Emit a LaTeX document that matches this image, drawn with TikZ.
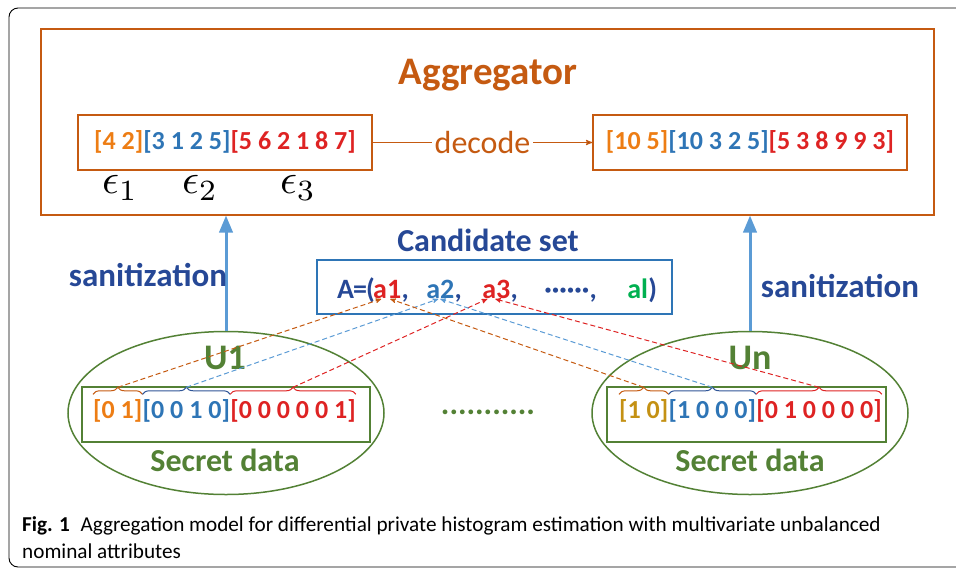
\documentclass[tikz,border=0pt]{standalone}
\usepackage{graphicx}
\usepackage{fontspec}
\setmainfont{Carlito}
\usepackage{tikz}
\usetikzlibrary{arrows}
\usetikzlibrary{shapes.geometric,decorations.pathreplacing}
\usetikzlibrary{positioning,calc}
\definecolor{aggorange}{RGB}{197,90,17}
\definecolor{txtorange}{RGB}{237,125,20}
\definecolor{txtblue}{RGB}{46,117,182}
\definecolor{braceblue}{RGB}{47,85,151}
\definecolor{txtred}{RGB}{222,35,35}
\definecolor{darkblue}{RGB}{38,72,150}
\definecolor{lightblue}{RGB}{91,155,213}
\definecolor{usergreen}{RGB}{83,129,53}
\definecolor{brightgreen}{RGB}{0,176,80}
\definecolor{gold}{RGB}{196,145,20}
\newcommand{\sz}[1]{\fontsize{#1}{#1}\selectfont}
\newcommand{\eps}[1]{\scalebox{4.2}{$\epsilon_{#1}$}}
\tikzset{
	every node/.style={font=\bfseries}
}
\tikzset{
	box/.style={draw,line width=1.6pt,inner sep=0pt}
}
\tikzset{
	vec/.style={font=\bfseries\sz{26},inner sep=0pt,text height=19pt,text depth=6pt},
	cand/.style={font=\bfseries\sz{28},inner sep=0pt,text height=20pt,text depth=7pt},
	user/.style={ellipse,draw=usergreen,line width=1.5pt,minimum width=316pt,minimum height=163pt},
	grp/.style={decorate,decoration={brace,amplitude=7pt,raise=5pt},line width=1pt},
	pick/.style={->,>=stealth',dash pattern=on 5pt off 3pt,line width=1pt},
	sanit/.style={->,>=triangle 45,line width=3pt,draw=lightblue}
}

\begin{document}
\begin{tikzpicture}[x=1pt,y=-1pt]
      \useasboundingbox (0,0) rectangle (956,571);
      \draw[rounded corners=9pt,line width=0.9pt] (975,567) -- (9,567) -- (9,8) -- (975,8);
      \node[box,draw=aggorange,minimum width=893pt,minimum height=186pt] (agg) at (487.5,122) {};
      \node[font=\bfseries\sz{39},text=aggorange] (aggtitle) at (488,75) {Aggregator};
      \node[box,vec,draw=aggorange,minimum width=294pt,minimum height=55pt] (enc) at (225,142.5)
           {\textcolor{txtorange}{[4 2]}\textcolor{txtblue}{[3 1 2 5]}\textcolor{txtred}{[5 6 2 1 8 7]}};
      \node[box,vec,draw=aggorange,minimum width=314pt,minimum height=55pt] (dec) at (750,142.5)
           {\textcolor{txtorange}{[10 5]}\textcolor{txtblue}{[10 3 2 5]}\textcolor{txtred}{[5 3 8 9 9 3]}};
      \path[->,>=stealth',draw=aggorange,line width=1.2pt] (enc) edge node[fill=white,font=\sz{32},text=aggorange,inner sep=3pt] {decode} (dec);
      \node (e1) at (120,188) {\eps{1}};
      \node (e2) at (200,188) {\eps{2}};
      \node (e3) at (298,188) {\eps{3}};

      \node[font=\bfseries\sz{32},text=darkblue] (candtitle) at (488,240) {Candidate set};
      \node[box,draw=txtblue,minimum width=355pt,minimum height=54pt] (candbox) at (494.5,287) {};
      \node[cand,text=darkblue,anchor=west] (cA) at (337,291.5) {A\kern-1pt=\kern-1pt(};
      \node[cand,text=txtred,right=-2pt of cA] (a1) {a1};
      \node[cand,text=darkblue,right=0pt of a1] (k1) {,};
      \node[cand,text=txtblue,right=17pt of k1] (a2) {a2};
      \node[cand,text=darkblue,right=0pt of a2] (k2) {,};
      \node[cand,text=txtred,right=20pt of k2] (a3) {a3};
      \node[cand,text=darkblue,right=0pt of a3] (k3) {,};
      \node[cand,text=darkblue,right=26pt of k3] (adots) {······};
      \node[cand,text=darkblue,right=0pt of adots] (k4) {,};
      \node[cand,text=brightgreen,right=30pt of k4] (al) {al};
      \node[cand,text=darkblue,right=0pt of al] (cB) {)};

      \node[user] (U1) at (226,413) {};
      \node[user] (Un) at (750,413) {};
      \node[font=\bfseries\sz{36},text=usergreen] (U1name) at (225,358) {U1};
      \node[font=\bfseries\sz{36},text=usergreen] (Unname) at (750,358) {Un};
      \node[box,draw=usergreen,line width=1.5pt,minimum width=288pt,minimum height=55pt] (U1data) at (226,414.5) {};
      \node[box,draw=usergreen,line width=1.5pt,minimum width=279pt,minimum height=55pt] (Undata) at (746.5,414.5) {};
      \node[font=\bfseries\sz{32},text=usergreen] (U1sec) at (225,460) {Secret data};
      \node[font=\bfseries\sz{32},text=usergreen] (Unsec) at (750,460) {Secret data};
      \node[font=\bfseries\sz{32},text=usergreen] (others) at (488,412) {...........};

      \node[vec,text=txtorange,anchor=west] (u1g1) at (93,412) {[0 1]};
      \node[vec,text=txtblue,right=0pt of u1g1] (u1g2) {[0 0 1 0]};
      \node[vec,text=txtred,right=0pt of u1g2] (u1g3) {[0 0 0 0 0 1]};
      \node[vec,text=gold,anchor=west] (ung1) at (619,412) {[1 0]};
      \node[vec,text=txtblue,right=0pt of ung1] (ung2) {[1 0 0 0]};
      \node[vec,text=txtred,right=0pt of ung2] (ung3) {[0 1 0 0 0 0]};

      \draw[grp,aggorange] (u1g1.north west) -- (u1g1.north east);
      \draw[grp,braceblue] (u1g2.north west) -- (u1g2.north east);
      \draw[grp,txtred] (u1g3.north west) -- (u1g3.north east);
      \draw[grp,aggorange] (ung1.north west) -- (ung1.north east);
      \draw[grp,braceblue] (ung2.north west) -- (ung2.north east);
      \draw[grp,txtred] (ung3.north west) -- (ung3.north east);
      \coordinate (u1t1) at ([yshift=12pt]u1g1.north);
      \coordinate (u1t2) at ([yshift=12pt]u1g2.north);
      \coordinate (u1t3) at ([yshift=12pt]u1g3.north);
      \coordinate (unt1) at ([yshift=12pt]ung1.north);
      \coordinate (unt2) at ([yshift=12pt]ung2.north);
      \coordinate (unt3) at ([yshift=12pt]ung3.north);

      \draw[pick,aggorange] (u1t1) -- ([xshift=-6pt,yshift=-1pt]a1.base);
      \draw[pick,lightblue] (u1t2) -- ([xshift=-2pt,yshift=-1pt]a2.base);
      \draw[pick,txtred] (u1t3) -- ([xshift=-9pt,yshift=-1pt]a3.base);
      \draw[pick,aggorange] (unt1) -- ([xshift=3pt,yshift=-1pt]a1.base);
      \draw[pick,lightblue] (unt2) -- ([yshift=-1pt]a2.base);
      \draw[pick,txtred] (unt3) -- ([xshift=-1pt,yshift=-1pt]a3.base);

      \draw[sanit] (U1.north) -- (U1.north |- agg.south);
      \draw[sanit] (Un.north) -- (Un.north |- agg.south);
      \node[font=\bfseries\sz{33},text=darkblue] (sanl) at (148,275) {sanitization};
      \node[font=\bfseries\sz{33},text=darkblue] (sanr) at (840,286) {sanitization};

      \node[font=\sz{21.2},anchor=base west,align=left,inner sep=0pt] (caption) at (22,558)
           {\textbf{Fig. 1}\enspace Aggregation model for differential private histogram estimation with multivariate unbalanced\\[5pt]
            nominal attributes};
    \end{tikzpicture}
\end{document}
